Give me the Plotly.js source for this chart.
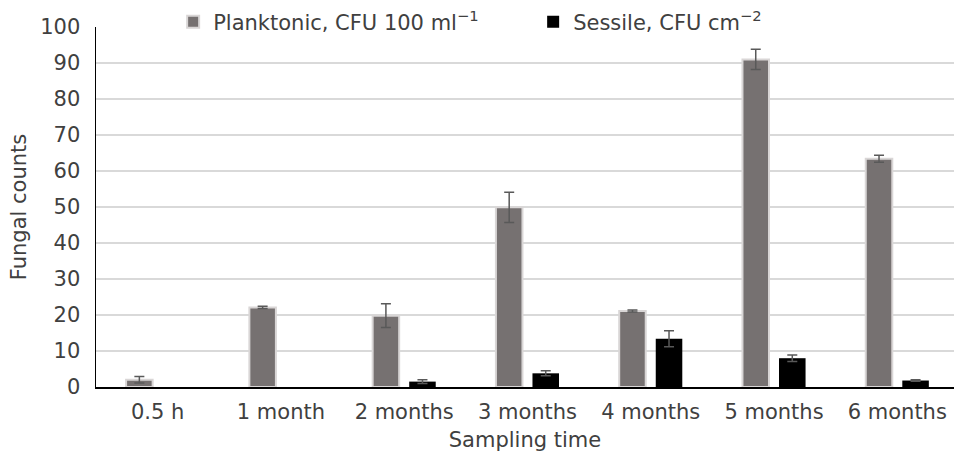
<!DOCTYPE html>
<html>
<head>
<meta charset="utf-8">
<script src="https://cdn.plot.ly/plotly-3.0.1.min.js"></script>
<style>html,body{margin:0;padding:0;background:#fff;}#chart{width:954px;height:452px;}</style>
</head>
<body>
<div id="chart"></div>
<script>
var categories = ["0.5 h", "1 month", "2 months", "3 months", "4 months", "5 months", "6 months"];
var planktonic = [2.0, 22.1, 19.8, 49.9, 21.1, 91.0, 63.4];
var planktonicErr = [0.9, 0.3, 3.3, 4.2, 0.3, 2.8, 1.0];
var sessile = [null, null, 1.5, 3.8, 13.4, 8.0, 1.8];
var sessileErr = [null, null, 0.5, 0.7, 2.2, 0.9, 0.2];
var yTicks = [0, 10, 20, 30, 40, 50, 60, 70, 80, 90, 100];

var font = "DejaVu Sans, Verdana, sans-serif";
var fs = 21;
var txt = "#404040";
var traces = [
  {
    type: "bar", name: "Planktonic, CFU 100 ml<sup>\u22121</sup>",
    x: categories, y: planktonic,
    marker: {color: "#767171", line: {color: "#d9d6d6", width: 2}},
    error_y: {type: "data", array: planktonicErr, visible: true, color: "#595959", thickness: 1.5, width: 5}
  },
  {
    type: "bar", name: "Sessile, CFU cm<sup>\u22122</sup>",
    x: categories, y: sessile,
    marker: {color: "#000000", line: {color: "#000000", width: 0}},
    error_y: {type: "data", array: sessileErr, visible: true, color: "#595959", thickness: 1.5, width: 5}
  }
];

var layout = {
  width: 954, height: 452,
  margin: {l: 96, r: 0, t: 27, b: 65, autoexpand: false},
  paper_bgcolor: "#ffffff", plot_bgcolor: "#ffffff",
  font: {family: font, size: fs, color: txt},
  barmode: "group", bargap: 0.407, bargroupgap: 0.274,
  showlegend: true,
  legend: {orientation: "h", xref: "container", yref: "container",
           x: 0.1815, xanchor: "left", y: 0.951, yanchor: "middle",
           font: {family: font, size: fs, color: txt}, entrywidth: 315, entrywidthmode: "pixels",
           bgcolor: "rgba(0,0,0,0)"},
  xaxis: {
    type: "category", range: [-0.5, 6.46],
    showline: true, linecolor: "#000000", linewidth: 2,
    showgrid: false, ticks: "", ticklabelstandoff: 5,
    tickfont: {family: font, size: fs, color: txt},
    title: {text: "Sampling time", font: {family: font, size: fs, color: txt}, standoff: 12}
  },
  yaxis: {
    range: [0, 100], tickvals: yTicks, ticktext: yTicks.map(String),
    showline: true, linecolor: "#000000", linewidth: 1.5,
    showgrid: true, gridcolor: "#d9d9d9", gridwidth: 2,
    zeroline: false, ticks: "", ticklabelstandoff: 10,
    tickfont: {family: font, size: fs, color: txt},
    title: {text: "Fungal counts", font: {family: font, size: fs, color: txt}, standoff: 8}
  }
};

Plotly.newPlot("chart", traces, layout, {displayModeBar: false, staticPlot: true});
</script>
</body>
</html>
